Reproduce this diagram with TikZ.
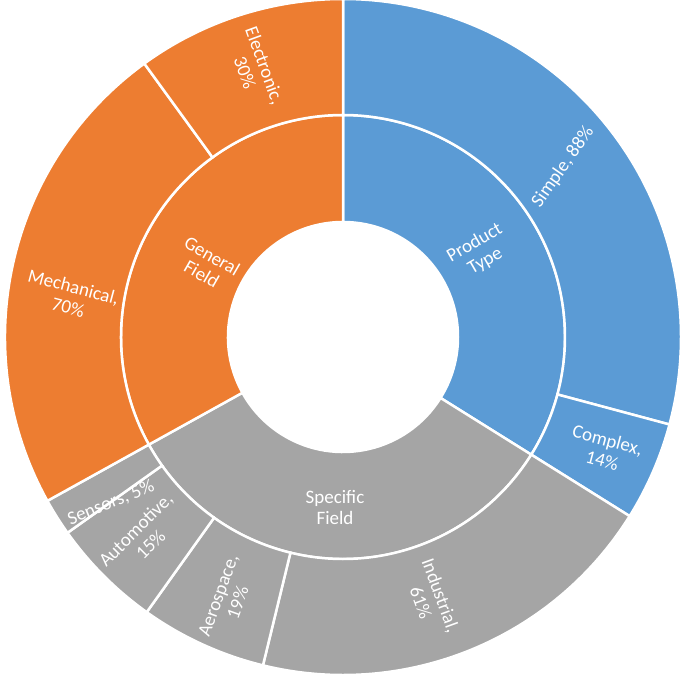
\documentclass[tikz,border=0pt]{standalone}
\usepackage{fontspec}
\setmainfont{Carlito}
\definecolor{ptblue}{HTML}{5B9BD5}
\definecolor{gforange}{HTML}{ED7D31}
\definecolor{sfgray}{HTML}{A5A5A5}
\newcommand{\ringsect}[5]{%
	\fill[#5,draw=white,line width=2.5pt] (#1:#3) arc[start angle=#1,end angle=#2,radius=#3] -- (#2:#4) arc[start angle=#2,end angle=#1,radius=#4] -- cycle;}
\tikzset{lab/.style={text=white,align=center,font=\fontsize{19}{21}\selectfont,inner sep=1pt}}
\begin{document}
\begin{tikzpicture}[x=1pt,y=1pt]
	\useasboundingbox (-343,-348) rectangle (342,337);
	% inner ring
	\ringsect{90}{-32}{115}{222}{ptblue}
	\ringsect{-32}{-151}{115}{222}{sfgray}
	\ringsect{209}{90}{115}{222}{gforange}
	% outer ring
	\ringsect{90}{-15}{222}{338}{ptblue}
	\ringsect{-15}{-32}{222}{338}{ptblue}
	\ringsect{-32}{-103.7}{222}{338}{sfgray}
	\ringsect{-103.7}{-125.5}{222}{338}{sfgray}
	\ringsect{-125.5}{-144.6}{222}{338}{sfgray}
	\ringsect{-144.6}{-151}{222}{338}{sfgray}
	\ringsect{209}{126}{222}{338}{gforange}
	\ringsect{126}{90}{222}{338}{gforange}
	% labels
	\node[lab,rotate=30] (prodtype) at (137,85) {Product\\Type};
	\node[lab] (specfield) at (-8,-170) {Specific\\Field};
	\node[lab,rotate=-30] (genfield) at (-136,72) {General\\Field};
	\node[lab,rotate=55] (simple) at (220,170) {Simple, 88\%};
	\node[lab,rotate=-15] (complex) at (262,-113) {Complex,\\14\%};
	\node[lab,rotate=-70] (industrial) at (88,-262) {Industrial,\\61\%};
	\node[lab,rotate=70] (aerospace) at (-115,-262) {Aerospace,\\19\%};
	\node[lab,rotate=45] (automotive) at (-200,-200) {Automotive,\\15\%};
	\node[lab,rotate=22] (sensors) at (-232,-166) {Sensors, 5\%};
	\node[lab,rotate=-15] (mechanical) at (-272,40) {Mechanical,\\70\%};
	\node[lab,rotate=-70] (electronic) at (-88,268) {Electronic,\\30\%};
\end{tikzpicture}
\end{document}
